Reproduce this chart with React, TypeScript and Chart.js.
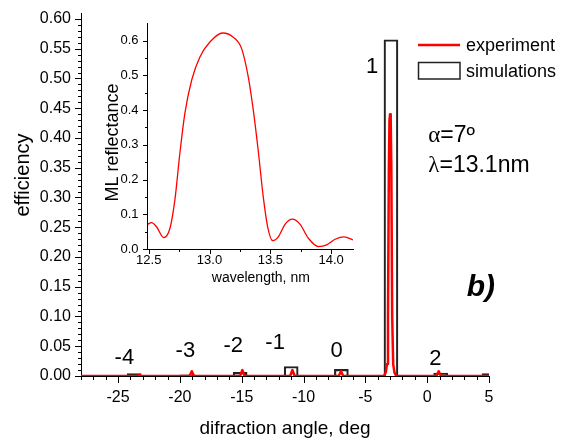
import React, { useEffect, useRef } from 'react';
import { Chart, registerables } from 'chart.js';

Chart.register(...registerables);

const FONT = '"Liberation Sans", Arial, Helvetica, sans-serif';
const SERIF = '"Liberation Serif", "Times New Roman", serif';

// ---------- main chart data ----------
const effTicks = [0, 0.05, 0.1, 0.15, 0.2, 0.25, 0.3, 0.35, 0.4, 0.45, 0.5, 0.55, 0.6];
const effTickLabels = ['0.00', '0.05', '0.10', '0.15', '0.20', '0.25', '0.30', '0.35', '0.40', '0.45', '0.50', '0.55', '0.60'];
const angleTicks = [-25, -20, -15, -10, -5, 0, 5];
const angleTickLabels = ['-25', '-20', '-15', '-10', '-5', '0', '5'];

const expAngle = [-28, -23.45, -23.27, -23.1, -19.22, -19.04, -18.86, -15.13, -14.95, -14.77, -11.08, -10.9, -10.72, -7.15, -6.97, -6.79, -3.5, -3.35, -3.25, -3.17, -3.1, -3.05, -3.0, -2.95, -2.9, -2.83, -2.75, -2.65, -2.5, 0.75, 0.93, 1.11, 5];
const expEff = [0, 0, 0.002, 0, 0, 0.008, 0, 0, 0.01, 0, 0, 0.01, 0, 0, 0.008, 0, 0, 0.006, 0.02, 0.1, 0.35, 0.43, 0.44, 0.43, 0.35, 0.1, 0.02, 0.006, 0, 0, 0.008, 0, 0];

const simAngle = [-23.7, -19.4, -15.13, -11.0, -6.94, -2.93, 1.09, 5.0];
const simEff = [0.004, 0.002, 0.006, 0.016, 0.011, 0.565, 0.005, 0.004];

const orderLabels = ['-4', '-3', '-2', '-1', '0', '1', '2'];
const orderLabelAngle = [-24.49, -19.56, -15.68, -12.3, -7.32, -4.46, 0.67];
const orderLabelEff = [0.03, 0.042, 0.05, 0.056, 0.042, 0.52, 0.029];

// ---------- inset data ----------
const wlTicks = [12.5, 13.0, 13.5, 14.0];
const wlTickLabels = ['12.5', '13.0', '13.5', '14.0'];
const reflTicks = [0, 0.1, 0.2, 0.3, 0.4, 0.5, 0.6];
const reflTickLabels = ['0.0', '0.1', '0.2', '0.3', '0.4', '0.5', '0.6'];

const wavelength = [12.49, 12.523, 12.564, 12.624, 12.674, 12.715, 12.756, 12.797, 12.853, 12.921, 13.003, 13.108, 13.195, 13.264, 13.319, 13.36, 13.4, 13.442, 13.478, 13.52, 13.566, 13.621, 13.681, 13.745, 13.813, 13.896, 13.964, 14.033, 14.107, 14.18];
const reflectance = [0.071, 0.076, 0.064, 0.033, 0.059, 0.141, 0.275, 0.39, 0.486, 0.553, 0.596, 0.622, 0.61, 0.577, 0.495, 0.4, 0.285, 0.15, 0.064, 0.024, 0.035, 0.071, 0.086, 0.071, 0.031, 0.007, 0.012, 0.028, 0.035, 0.026];

type TickDef = { id: string; major: number; minor: number; majorLen: number; minorLen: number; from: number; to: number };

function makeTickPlugin(id: string, defs: TickDef[]) {
  return {
    id,
    afterDraw(chart: any) {
      const ctx = chart.ctx;
      ctx.save();
      ctx.strokeStyle = '#000';
      ctx.lineWidth = 1;
      ctx.beginPath();
      for (const d of defs) {
        const s = chart.scales[d.id];
        const n0 = Math.ceil(d.from / d.minor - 1e-6);
        const n1 = Math.floor(d.to / d.minor + 1e-6);
        for (let n = n0; n <= n1; n++) {
          const v = n * d.minor;
          const r = v / d.major;
          const isMajor = Math.abs(r - Math.round(r)) < 1e-6;
          const len = isMajor ? d.majorLen : d.minorLen;
          const p = Math.round(s.getPixelForValue(v)) + 0.5;
          if (s.isHorizontal()) {
            const y = Math.round(s.top);
            ctx.moveTo(p, y);
            ctx.lineTo(p, y + len);
          } else {
            const x = Math.round(s.right);
            ctx.moveTo(x - len, p);
            ctx.lineTo(x, p);
          }
        }
      }
      ctx.stroke();
      ctx.restore();
    },
  };
}

function greekText(ctx: any, greek: string, rest: string, x: number, y: number, size: number) {
  ctx.font = `${size}px ${SERIF}`;
  ctx.fillText(greek, x, y);
  const w = ctx.measureText(greek).width;
  ctx.font = `${size}px ${FONT}`;
  ctx.fillText(rest, x + w, y);
}

const mainTextPlugin = {
  id: 'mainText',
  afterDraw(chart: any) {
    const { ctx } = chart;
    const x = chart.scales.x;
    const y = chart.scales.y;
    ctx.save();
    ctx.fillStyle = '#000';
    ctx.textAlign = 'center';
    ctx.textBaseline = 'alphabetic';
    ctx.font = `19px ${FONT}`;
    ctx.fillText('difraction angle, deg', (x.left + x.right) / 2, 434);
    ctx.save();
    ctx.translate(28.5, 175);
    ctx.rotate(-Math.PI / 2);
    ctx.font = `20px ${FONT}`;
    ctx.fillText('efficiency', 0, 0);
    ctx.restore();

    // diffraction order labels
    ctx.font = `22px ${FONT}`;
    ctx.textBaseline = 'middle';
    orderLabels.forEach((t, i) => {
      ctx.fillText(t, x.getPixelForValue(orderLabelAngle[i]), y.getPixelForValue(orderLabelEff[i]));
    });

    // legend
    const ds = chart.data.datasets;
    ctx.textAlign = 'left';
    ctx.textBaseline = 'alphabetic';
    ctx.font = `18px ${FONT}`;
    ctx.strokeStyle = ds[0].borderColor;
    ctx.lineWidth = 2.5;
    ctx.beginPath();
    ctx.moveTo(418, 45);
    ctx.lineTo(460, 45);
    ctx.stroke();
    ctx.fillText(ds[0].label, 466, 51);
    ctx.strokeStyle = ds[1].borderColor;
    ctx.lineWidth = 1.5;
    ctx.strokeRect(418.5, 62.5, 41.5, 16.5);
    ctx.fillText(ds[1].label, 466, 76.7);

    // parameters
    greekText(ctx, '\u03B1', '=7\u00BA', 428.3, 141.7, 23);
    greekText(ctx, '\u03BB', '=13.1nm', 428.3, 171.7, 23);

    ctx.font = `italic bold 30px ${FONT}`;
    ctx.fillText('b)', 466.7, 296);
    ctx.restore();
  },
};

const insetTextPlugin = {
  id: 'insetText',
  afterDraw(chart: any) {
    const { ctx } = chart;
    ctx.save();
    ctx.fillStyle = '#000';
    ctx.textAlign = 'center';
    ctx.textBaseline = 'alphabetic';
    ctx.font = `14px ${FONT}`;
    ctx.fillText('wavelength, nm', 165.8, 267);
    ctx.save();
    ctx.translate(23, 127.5);
    ctx.rotate(-Math.PI / 2);
    ctx.font = `18px ${FONT}`;
    ctx.fillText('ML reflectance', 0, 0);
    ctx.restore();
    ctx.restore();
  },
};

function fixWidth(w: number) {
  return (s: any) => {
    s.width = w;
    s.paddingTop = 0;
    s.paddingBottom = 0;
    s.paddingLeft = 0;
    s.paddingRight = 0;
  };
}
function fixHeight(h: number) {
  return (s: any) => {
    s.height = h;
    s.paddingTop = 0;
    s.paddingBottom = 0;
    s.paddingLeft = 0;
    s.paddingRight = 0;
  };
}

export default function App() {
  const mainRef = useRef<HTMLCanvasElement | null>(null);
  const insetRef = useRef<HTMLCanvasElement | null>(null);

  useEffect(() => {
    document.body.style.margin = '0';
    const mainCanvas = mainRef.current!;
    const insetCanvas = insetRef.current!;

    const main = new Chart(mainCanvas, {
      type: 'bar',
      data: {
        datasets: [
          {
            type: 'line',
            label: 'experiment',
            data: expAngle.map((a, i) => ({ x: a, y: expEff[i] })),
            borderColor: '#ff0000',
            borderWidth: 2.5,
            borderJoinStyle: 'round',
            pointRadius: 0,
            tension: 0,
            order: 0,
          } as any,
          {
            type: 'bar',
            label: 'simulations',
            data: simAngle.map((a, i) => ({ x: a, y: simEff[i] })),
            borderColor: '#222222',
            borderWidth: 1.5,
            backgroundColor: 'rgba(0,0,0,0)',
            barThickness: 14,
            order: 1,
            clip: 0,
          } as any,
        ],
      },
      options: {
        animation: false,
        responsive: false,
        devicePixelRatio: 1,
        layout: { padding: { top: 13, right: 72, left: 0, bottom: 0 } },
        plugins: { legend: { display: false }, tooltip: { enabled: false } },
        scales: {
          x: {
            type: 'linear',
            min: -28,
            max: 5,
            offset: false,
            grid: { display: false, drawTicks: false },
            border: { display: true, color: '#000', width: 1 },
            ticks: {
              autoSkip: false,
              maxRotation: 0,
              padding: 12,
              color: '#000',
              font: { family: FONT, size: 16 },
              callback: (_v: any, i: number) => angleTickLabels[i],
            },
            afterBuildTicks: (s: any) => {
              s.ticks = angleTicks.map((v) => ({ value: v }));
            },
            afterFit: fixHeight(66),
          },
          y: {
            type: 'linear',
            min: 0,
            max: 0.61,
            grid: { display: false, drawTicks: false },
            border: { display: true, color: '#000', width: 1 },
            ticks: {
              autoSkip: false,
              padding: 10,
              color: '#000',
              font: { family: FONT, size: 16 },
              callback: (_v: any, i: number) => effTickLabels[i],
            },
            afterBuildTicks: (s: any) => {
              s.ticks = effTicks.map((v) => ({ value: v }));
            },
            afterFit: fixWidth(81),
          },
        },
      } as any,
      plugins: [
        makeTickPlugin('mainTicks', [
          { id: 'x', major: 5, minor: 1, majorLen: 7, minorLen: 4, from: -28, to: 5 },
          { id: 'y', major: 0.05, minor: 0.01, majorLen: 6, minorLen: 3, from: 0, to: 0.6 },
        ]),
        mainTextPlugin,
      ],
    });

    const inset = new Chart(insetCanvas, {
      type: 'line',
      data: {
        datasets: [
          {
            label: 'ML reflectance',
            data: wavelength.map((w, i) => ({ x: w, y: reflectance[i] })),
            borderColor: '#ff0000',
            borderWidth: 1.3,
            pointRadius: 0,
            cubicInterpolationMode: 'monotone',
          } as any,
        ],
      },
      options: {
        animation: false,
        responsive: false,
        devicePixelRatio: 1,
        layout: { padding: { top: 8.3, right: 7, left: 0, bottom: 0 } },
        plugins: { legend: { display: false }, tooltip: { enabled: false } },
        scales: {
          x: {
            type: 'linear',
            min: 12.49,
            max: 14.18,
            grid: { display: false, drawTicks: false },
            border: { display: true, color: '#000', width: 1 },
            ticks: {
              autoSkip: false,
              maxRotation: 0,
              padding: 4,
              color: '#000',
              font: { family: FONT, size: 13 },
              callback: (_v: any, i: number) => wlTickLabels[i],
            },
            afterBuildTicks: (s: any) => {
              s.ticks = wlTicks.map((v) => ({ value: v }));
            },
            afterFit: fixHeight(46),
          },
          y: {
            type: 'linear',
            min: 0,
            max: 0.65,
            grid: { display: false, drawTicks: false },
            border: { display: true, color: '#000', width: 1 },
            ticks: {
              autoSkip: false,
              padding: 9,
              color: '#000',
              font: { family: FONT, size: 13 },
              callback: (_v: any, i: number) => reflTickLabels[i],
            },
            afterBuildTicks: (s: any) => {
              s.ticks = reflTicks.map((v) => ({ value: v }));
            },
            afterFit: fixWidth(52.5),
          },
        },
      } as any,
      plugins: [
        makeTickPlugin('insetTicks', [
          { id: 'x', major: 0.5, minor: 0.25, majorLen: 5, minorLen: 3, from: 12.5, to: 14.18 },
          { id: 'y', major: 0.1, minor: 0.05, majorLen: 5, minorLen: 3, from: 0, to: 0.6 },
        ]),
        insetTextPlugin,
      ],
    });

    return () => {
      main.destroy();
      inset.destroy();
    };
  }, []);

  return (
    <div style={{ position: 'relative', width: 561, height: 442, background: '#fff' }}>
      <canvas
        ref={mainRef}
        width={561}
        height={442}
        style={{ position: 'absolute', left: 0, top: 0, width: 561, height: 442 }}
      />
      <canvas
        ref={insetRef}
        width={265}
        height={280}
        style={{ position: 'absolute', left: 95, top: 15, width: 265, height: 280 }}
      />
    </div>
  );
}
